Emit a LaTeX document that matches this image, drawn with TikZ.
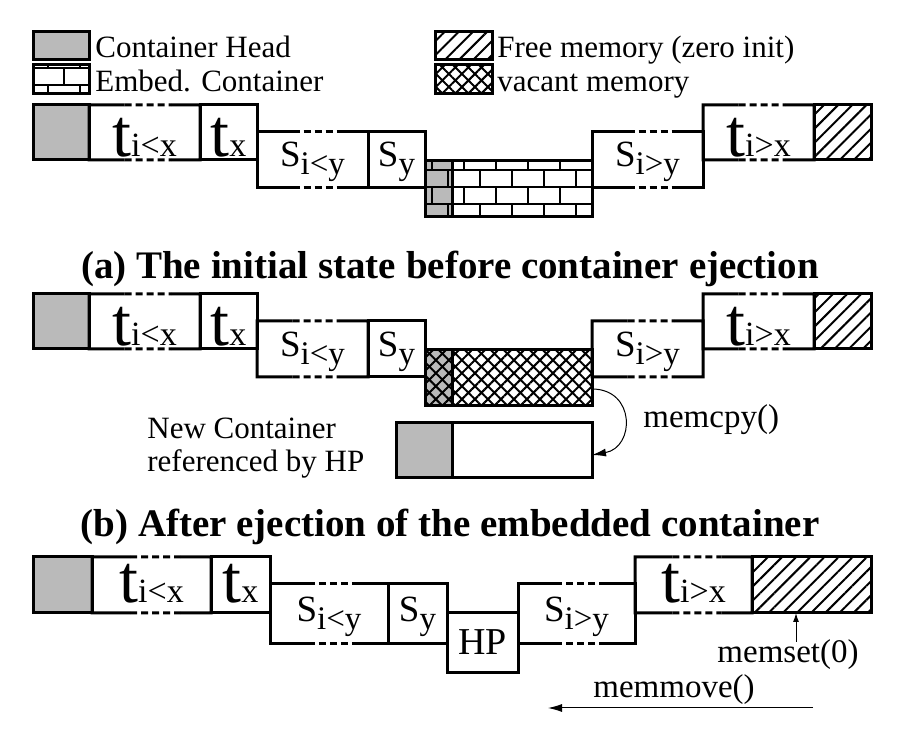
\documentclass[tikz,border=0pt]{standalone}
\usepackage{fontspec}
\setmainfont{Liberation Serif}
\usetikzlibrary{calc,fit,patterns,patterns.meta,arrows.meta}

% brick pattern with heavy joints
\pgfdeclarepatternformonly{heavybricks}{\pgfpoint{-1pt}{-1pt}}{\pgfpoint{17pt}{18pt}}{\pgfpoint{16pt}{17pt}}{%
  \pgfsetlinewidth{1.3pt}%
  \pgfpathmoveto{\pgfpoint{0pt}{0pt}}\pgfpathlineto{\pgfpoint{16pt}{0pt}}%
  \pgfpathmoveto{\pgfpoint{0pt}{8.5pt}}\pgfpathlineto{\pgfpoint{16pt}{8.5pt}}%
  \pgfpathmoveto{\pgfpoint{0pt}{0pt}}\pgfpathlineto{\pgfpoint{0pt}{8.5pt}}%
  \pgfpathmoveto{\pgfpoint{8pt}{8.5pt}}\pgfpathlineto{\pgfpoint{8pt}{17pt}}%
  \pgfusepath{stroke}}

% cell labels
\newcommand{\tname}[1]{{\fontsize{34}{34}\selectfont t}{\fontsize{17}{17}\selectfont #1}}
\newcommand{\sname}[1]{{\fontsize{18.5}{19}\selectfont S}\raisebox{-4pt}{\fontsize{16.5}{17}\selectfont #1}}

% outline of a cell of variable length (dashed middle)
\newcommand{\slotedges}[1]{%
  \draw[line width=1.5pt] ($(#1.north west)!.32!(#1.north east)$) -- (#1.north west)
      -- (#1.south west) -- ($(#1.south west)!.32!(#1.south east)$)
      ($(#1.north west)!.74!(#1.north east)$) -- (#1.north east)
      -- (#1.south east) -- ($(#1.south west)!.74!(#1.south east)$);
  \draw[line width=1.5pt,dash pattern=on 3.5pt off 2pt]
      ($(#1.north west)!.32!(#1.north east)$) -- ($(#1.north west)!.74!(#1.north east)$)
      ($(#1.south west)!.32!(#1.south east)$) -- ($(#1.south west)!.74!(#1.south east)$);}

\begin{document}
\begin{tikzpicture}[x=0.5pt,y=-0.5pt,
    box/.style={draw,line width=1.5pt,inner sep=0pt,outer sep=0pt},
    slot/.style={inner sep=0pt,outer sep=0pt},
    head/.style={box,fill=black!27},
    zero/.style={box,pattern={Lines[angle=45,distance=5pt,line width=1pt]}},
    vacant/.style={box,pattern={Hatch[angle=45,distance=4.6pt,line width=1pt]}},
    embed/.style={box,pattern=heavybricks},
    embedhead/.style={head,postaction={pattern=heavybricks}},
    vacanthead/.style={head,postaction={pattern={Hatch[angle=45,distance=4.6pt,line width=1pt]}}},
    txt/.style={inner sep=0pt,font=\fontsize{15.5}{16.5}\selectfont},
    call/.style={txt,font=\fontsize{16.5}{18}\selectfont},
    title/.style={inner sep=0pt,font=\bfseries\fontsize{19.5}{22}\selectfont},
    cell/.style={inner sep=0pt,anchor=base},
    flow/.style={line width=0.5pt,-{Latex[length=7pt,width=4pt]}}]
    \useasboundingbox (0,0) rectangle (900,731);

    % Legend
    \node[head, fit={(33,32)(89,60)}] (lghead) {};
    \node[embed, fit={(33,65)(89,94)}] (lgembed) {};
    \node[zero, fit={(435,32)(492,60)}] (lgzero) {};
    \node[vacant, fit={(435,65)(492,94)}] (lgvacant) {};
    \node[txt, anchor=base west] (lgheadtxt) at ([xshift=3pt,yshift=1pt]lghead.south east) {Container Head};
    \node[txt, anchor=base west] (lgembedtxt) at ([xshift=3pt,yshift=1pt]lgembed.south east) {Embed. Container};
    \node[txt, anchor=base west] (lgzerotxt) at ([xshift=2.5pt,yshift=1pt]lgzero.south east) {Free memory (zero init)};
    \node[txt, anchor=base west] (lgvacanttxt) at ([xshift=2.5pt,yshift=1pt]lgvacant.south east) {vacant memory};

    % (a) initial state
    \node[head, fit={(33,105)(89,160)}] (heada) {};
    \node[slot, fit={(89,105)(200,160)}] (tlxa) {};
    \node[box, fit={(200,105)(257,160)}] (txa) {};
    \node[slot, fit={(257,132)(368,188)}] (slya) {};
    \node[box, fit={(368,132)(425,188)}] (sya) {};
    \node[embedhead, fit={(425,161)(452,217)}] (echeada) {};
    \node[embed, fit={(452,161)(592,217)}] (eca) {};
    \node[slot, fit={(592,132)(703,188)}] (sgya) {};
    \node[slot, fit={(703,105)(814,160)}] (tgxa) {};
    \node[zero, fit={(814,105)(871,160)}] (freea) {};
    \slotedges{tlxa} \slotedges{slya} \slotedges{sgya} \slotedges{tgxa}
    \node[cell] (tlxalbl) at ([yshift=1.5pt]tlxa.south) {\tname{i<x}};
    \node[cell] (txalbl) at ([yshift=1.5pt]txa.south) {\tname{x}};
    \node[cell] (slyalbl) at ([yshift=10.5pt]slya.south) {\sname{i<y}};
    \node[cell] (syalbl) at ([yshift=10.5pt]sya.south) {\sname{y}};
    \node[cell] (sgyalbl) at ([yshift=10.5pt]sgya.south) {\sname{i>y}};
    \node[cell] (tgxalbl) at ([yshift=1.5pt]tgxa.south) {\tname{i>x}};
    \node[title, anchor=base] (capa) at (450,279) {(a) The initial state before container ejection};

    % (b) embedded container copied out
    \node[head, fit={(33,294)(89,349)}] (headb) {};
    \node[slot, fit={(89,294)(200,349)}] (tlxb) {};
    \node[box, fit={(200,294)(257,349)}] (txb) {};
    \node[slot, fit={(257,321)(368,377)}] (slyb) {};
    \node[box, fit={(368,321)(425,377)}] (syb) {};
    \node[vacanthead, fit={(425,350)(452,406)}] (vacheadb) {};
    \node[vacant, fit={(452,350)(592,406)}] (vacb) {};
    \node[slot, fit={(592,321)(703,377)}] (sgyb) {};
    \node[slot, fit={(703,294)(814,349)}] (tgxb) {};
    \node[zero, fit={(814,294)(871,349)}] (freeb) {};
    \slotedges{tlxb} \slotedges{slyb} \slotedges{sgyb} \slotedges{tgxb}
    \node[cell] (tlxblbl) at ([yshift=1.5pt]tlxb.south) {\tname{i<x}};
    \node[cell] (txblbl) at ([yshift=1.5pt]txb.south) {\tname{x}};
    \node[cell] (slyblbl) at ([yshift=10pt]slyb.south) {\sname{i<y}};
    \node[cell] (syblbl) at ([yshift=10pt]syb.south) {\sname{y}};
    \node[cell] (sgyblbl) at ([yshift=10pt]sgyb.south) {\sname{i>y}};
    \node[cell] (tgxblbl) at ([yshift=1.5pt]tgxb.south) {\tname{i>x}};
    \node[head, fit={(396,423)(452,478)}] (newhead) {};
    \node[box, fit={(452,423)(592,478)}] (newbody) {};
    \node[txt, align=left, anchor=north west] (newtxt) at (147,418) {New Container\\referenced by HP};
    \draw[flow] ([yshift=8.5pt]vacb.south east) to[out=0,in=10,looseness=1.7] ([yshift=11.5pt]newbody.south east);
    \node[call, anchor=base west] (cpytxt) at (643,428) {memcpy()};
    \node[title, anchor=base] (capb) at (450,537) {(b) After ejection of the embedded container};

    % (c) after memmove
    \node[head, fit={(33,557)(92,613)}] (headc) {};
    \node[slot, fit={(92,557)(211,613)}] (tlxc) {};
    \node[box, fit={(211,557)(270,613)}] (txc) {};
    \node[slot, fit={(270,584)(388,644)}] (slyc) {};
    \node[box, fit={(388,584)(447,644)}] (syc) {};
    \node[box, fit={(447,613)(518,673)}] (hpc) {};
    \node[slot, fit={(518,584)(635,644)}] (sgyc) {};
    \node[slot, fit={(635,557)(752,613)}] (tgxc) {};
    \node[zero, fit={(752,557)(871,613)}] (freec) {};
    \slotedges{tlxc} \slotedges{slyc} \slotedges{sgyc} \slotedges{tgxc}
    \node[cell] (tlxclbl) at ([yshift=5pt]tlxc.south) {\tname{i<x}};
    \node[cell] (txclbl) at ([yshift=5pt]txc.south) {\tname{x}};
    \node[cell] (slyclbl) at ([yshift=11pt]slyc.south) {\sname{i<y}};
    \node[cell] (syclbl) at ([yshift=11pt]syc.south) {\sname{y}};
    \node[cell, font=\fontsize{19}{20}\selectfont] (hpclbl) at ([yshift=9pt]hpc.south) {HP};
    \node[cell] (sgyclbl) at ([yshift=11pt]sgyc.south) {\sname{i>y}};
    \node[cell] (tgxclbl) at ([yshift=5pt]tgxc.south) {\tname{i>x}};
    \node[call, anchor=base] (settxt) at (788,663) {memset(0)};
    \coordinate (setfoot) at ([xshift=4pt,yshift=-1pt]settxt.north);
    \draw[line width=0.5pt,-{Latex[length=4.5pt,width=3pt]}] (setfoot) -- (setfoot |- freec.south);
    \node[call, anchor=base] (movetxt) at (674,698) {memmove()};
    \coordinate (movefrom) at (813,708);
    \coordinate (moveto) at (548,708);
    \draw[flow] (movefrom) -- (moveto);
\end{tikzpicture}
\end{document}
